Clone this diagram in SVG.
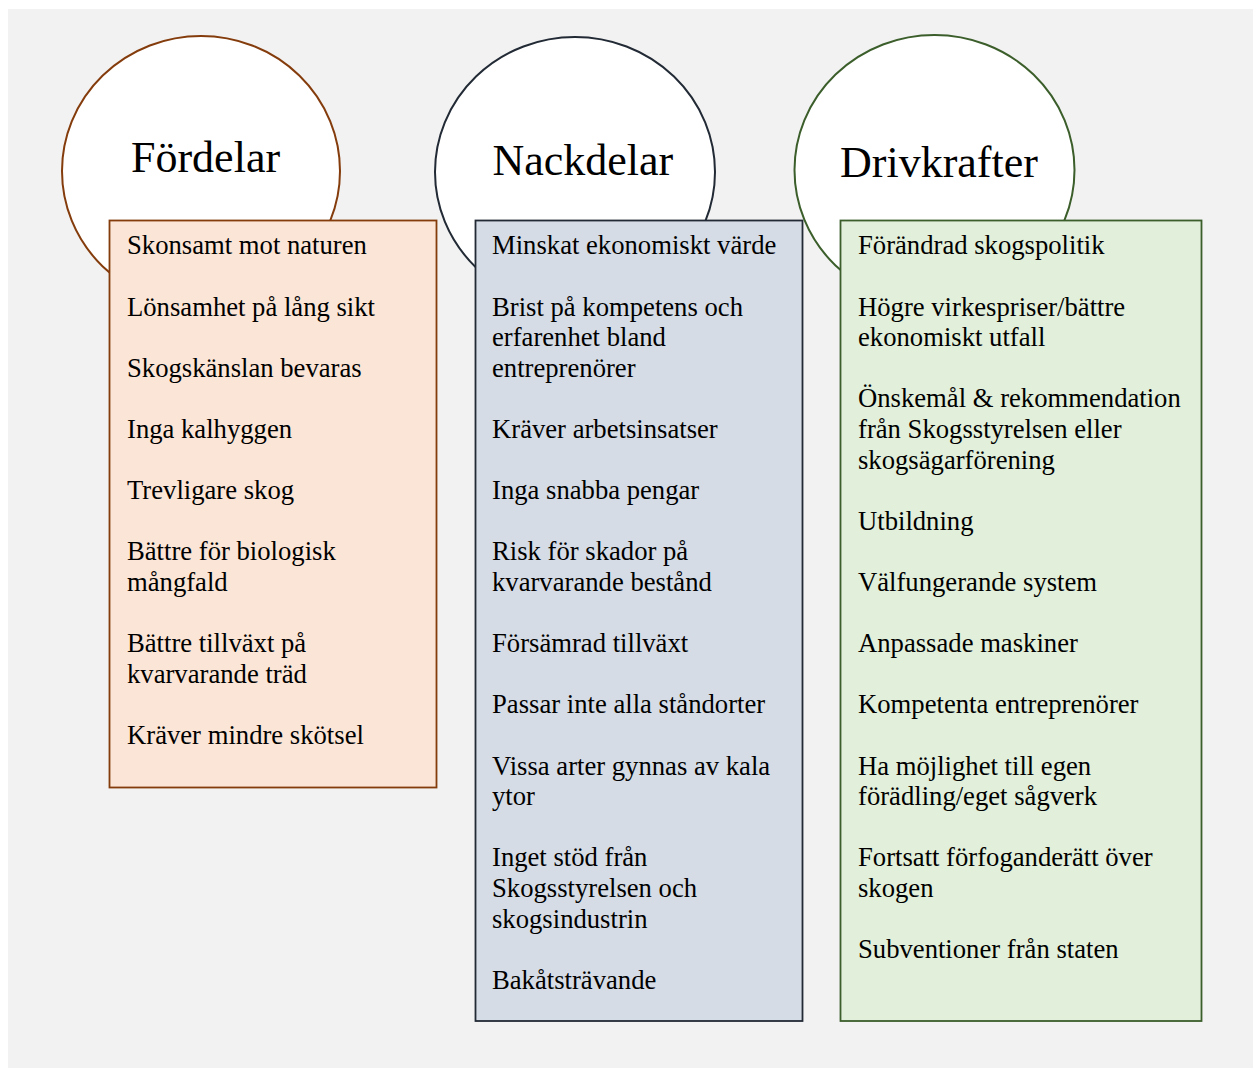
<svg xmlns="http://www.w3.org/2000/svg" width="1253" height="1068" viewBox="0 0 1253 1068">
<style>
.t{font-family:"Liberation Serif","Times New Roman",serif;font-size:26.67px;fill:#000}
.h{font-family:"Liberation Serif","Times New Roman",serif;font-size:44px;fill:#000}
.c{fill:#fff;stroke-width:2}
.b{stroke-width:1.8}
</style>
<rect x="0" y="0" width="1253" height="1068" fill="#fff"/>
<rect x="8" y="9" width="1245" height="1059" fill="#f2f2f2"/>
<g id="fordelar">
<ellipse class="c" cx="201" cy="171" rx="139" ry="135" stroke="#843c0c"/>
<text class="h" x="131" y="172">Fördelar</text>
<rect class="b" x="109.5" y="220.5" width="327" height="567" fill="#fbe5d6" stroke="#843c0c"/>
<text class="t" x="127" y="254.3">Skonsamt mot naturen</text>
<text class="t" x="127" y="315.5">Lönsamhet på lång sikt</text>
<text class="t" x="127" y="376.7">Skogskänslan bevaras</text>
<text class="t" x="127" y="437.9">Inga kalhyggen</text>
<text class="t" x="127" y="499.1">Trevligare skog</text>
<text class="t" x="127" y="560.3">Bättre för biologisk</text>
<text class="t" x="127" y="590.9">mångfald</text>
<text class="t" x="127" y="652.1">Bättre tillväxt på</text>
<text class="t" x="127" y="682.7">kvarvarande träd</text>
<text class="t" x="127" y="743.9">Kräver mindre skötsel</text>
</g>
<g id="nackdelar">
<ellipse class="c" cx="575" cy="172" rx="140" ry="135" stroke="#222a35"/>
<text class="h" x="492.5" y="175">Nackdelar</text>
<rect class="b" x="475.5" y="220.5" width="327" height="800.5" fill="#d6dce5" stroke="#222a35"/>
<text class="t" x="492" y="254.3">Minskat ekonomiskt värde</text>
<text class="t" x="492" y="315.5">Brist på kompetens och</text>
<text class="t" x="492" y="346.1">erfarenhet bland</text>
<text class="t" x="492" y="376.7">entreprenörer</text>
<text class="t" x="492" y="437.9">Kräver arbetsinsatser</text>
<text class="t" x="492" y="499.1">Inga snabba pengar</text>
<text class="t" x="492" y="560.3">Risk för skador på</text>
<text class="t" x="492" y="590.9">kvarvarande bestånd</text>
<text class="t" x="492" y="652.1">Försämrad tillväxt</text>
<text class="t" x="492" y="713.3">Passar inte alla ståndorter</text>
<text class="t" x="492" y="774.5">Vissa arter gynnas av kala</text>
<text class="t" x="492" y="805.1">ytor</text>
<text class="t" x="492" y="866.3">Inget stöd från</text>
<text class="t" x="492" y="896.9">Skogsstyrelsen och</text>
<text class="t" x="492" y="927.5">skogsindustrin</text>
<text class="t" x="492" y="988.7">Bakåtsträvande</text>
</g>
<g id="drivkrafter">
<ellipse class="c" cx="934.5" cy="170" rx="140" ry="135" stroke="#3b5e2b"/>
<text class="h" x="840" y="177">Drivkrafter</text>
<rect class="b" x="840.5" y="220.5" width="361" height="800.5" fill="#e2efda" stroke="#3b5e2b"/>
<text class="t" x="858" y="254.3">Förändrad skogspolitik</text>
<text class="t" x="858" y="315.5">Högre virkespriser/bättre</text>
<text class="t" x="858" y="346.1">ekonomiskt utfall</text>
<text class="t" x="858" y="407.3">Önskemål &amp; rekommendation</text>
<text class="t" x="858" y="437.9">från Skogsstyrelsen eller</text>
<text class="t" x="858" y="468.5">skogsägarförening</text>
<text class="t" x="858" y="529.7">Utbildning</text>
<text class="t" x="858" y="590.9">Välfungerande system</text>
<text class="t" x="858" y="652.1">Anpassade maskiner</text>
<text class="t" x="858" y="713.3">Kompetenta entreprenörer</text>
<text class="t" x="858" y="774.5">Ha möjlighet till egen</text>
<text class="t" x="858" y="805.1">förädling/eget sågverk</text>
<text class="t" x="858" y="866.3">Fortsatt förfoganderätt över</text>
<text class="t" x="858" y="896.9">skogen</text>
<text class="t" x="858" y="958.1">Subventioner från staten</text>
</g>
<g id="connectors"></g>
</svg>
